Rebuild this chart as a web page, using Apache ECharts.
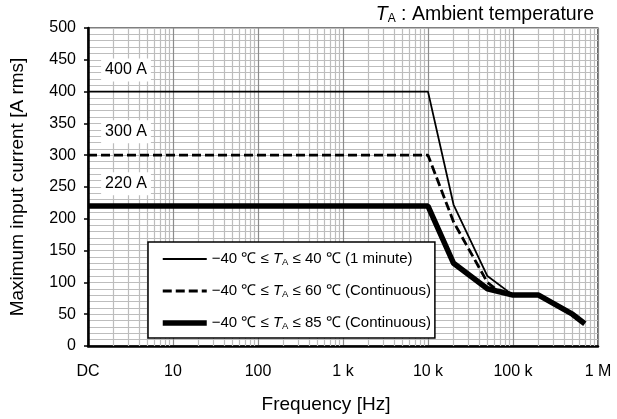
<!DOCTYPE html>
<html>
<head>
<meta charset="utf-8">
<script src="https://cdn.jsdelivr.net/npm/echarts@6/dist/echarts.min.js"></script>
<style>
html,body{margin:0;padding:0;background:#fff;}
#c{width:617px;height:419px;}
</style>
</head>
<body>
<div id="c"></div>
<script>
// ---- data ----
var seriesNames = [
  '−40 ℃ ≤ TA ≤ 40 ℃ (1 minute)',
  '−40 ℃ ≤ TA ≤ 60 ℃ (Continuous)',
  '−40 ℃ ≤ TA ≤ 85 ℃ (Continuous)'
];
var legendRich = [
  '−40 ℃ ≤ {i|T}{s|A} ≤ 40 ℃ (1 minute)',
  '−40 ℃ ≤ {i|T}{s|A} ≤ 60 ℃ (Continuous)',
  '−40 ℃ ≤ {i|T}{s|A} ≤ 85 ℃ (Continuous)'
];
var freqThin = [1, 10000, 20000, 50000, 100000];
var currThin = [400, 400, 222, 110, 80];
var freqDash = [1, 10000, 20000, 50000, 62000, 100000];
var currDash = [300, 300, 195, 100, 90, 80];
var freqThick = [1, 10000, 20000, 50000, 100000, 200000, 500000, 700000];
var currThick = [220, 220, 130, 90, 80, 80, 50, 35];
var xTickValues = [1, 10, 100, 1000, 10000, 100000, 1000000];
var xTickLabels = ['DC', '10', '100', '1 k', '10 k', '100 k', '1 M'];
var annotLabels = ['400 A', '300 A', '220 A'];
var annotFreq = [2.8, 2.8, 2.8];
var annotCurr = [434, 337, 255];

function pairs(xs, ys) { return xs.map(function (x, i) { return [x, ys[i]]; }); }

var minorLines = [];
for (var d = 1; d < 1000000; d *= 10) {
  for (var m = 2; m <= 9; m++) minorLines.push({ xAxis: d * m });
}

var lineWidths = [1.8, 2.8, 5.5];
var lineTypes = ['solid', [9, 4], 'solid'];

var FONT = 'Liberation Sans';
var chart = echarts.init(document.getElementById('c'), null, { renderer: 'canvas' });
chart.setOption({
  animation: false,
  backgroundColor: '#fff',
  textStyle: { fontFamily: FONT, color: '#000' },
  title: {
    text: '{i|T}{s|A} : Ambient temperature',
    right: 18, top: 0,
    textStyle: {
      fontFamily: FONT, fontSize: 19.5, fontWeight: 'normal', color: '#000',
      rich: {
        i: { fontFamily: FONT, fontSize: 19.5, fontStyle: 'italic', color: '#000' },
        s: { fontFamily: FONT, fontSize: 12, color: '#000', padding: [7, 0, 0, 0] }
      }
    }
  },
  grid: {
    left: 88, right: 19, top: 28, bottom: 73,
    show: true, borderColor: '#000', borderWidth: 1.2
  },
  legend: {
    orient: 'vertical',
    left: 148, top: 242,
    backgroundColor: '#fff',
    borderColor: '#000', borderWidth: 1.5, borderRadius: 0,
    padding: [8, 4, 6, 12],
    itemWidth: 44, itemHeight: 14, itemGap: 14,
    itemStyle: { opacity: 0 },
    data: seriesNames.map(function (n, i) {
      return { name: n, lineStyle: { width: lineWidths[i], type: lineTypes[i], color: '#000' } };
    }),
    formatter: function (n) { return legendRich[seriesNames.indexOf(n)]; },
    textStyle: {
      fontFamily: FONT, fontSize: 15, color: '#000', lineHeight: 18,
      rich: {
        i: { fontFamily: FONT, fontSize: 15, fontStyle: 'italic', color: '#000', lineHeight: 18 },
        s: { fontFamily: FONT, fontSize: 9.5, color: '#000', padding: [6, 0, 0, 0], lineHeight: 18 }
      }
    }
  },
  xAxis: {
    type: 'log', logBase: 10, min: 1, max: 1000000,
    name: 'Frequency [Hz]', nameLocation: 'middle', nameGap: 49,
    nameTextStyle: { fontFamily: FONT, fontSize: 19, color: '#000', padding: [0, 34, 0, 0] },
    axisLine: { show: true, lineStyle: { color: '#000', width: 2.5 } },
    axisTick: { show: false },
    axisLabel: {
      fontFamily: FONT, fontSize: 16, color: '#000', margin: 18,
      formatter: function (v) {
        var i = xTickValues.indexOf(Math.round(v));
        return i >= 0 ? xTickLabels[i] : '';
      }
    },
    splitLine: { show: true, lineStyle: { color: '#8c8c8c', width: 1.2 } }
  },
  yAxis: {
    type: 'value', min: 0, max: 500, interval: 50,
    name: 'Maximum input current [A rms]', nameLocation: 'middle', nameGap: 61,
    nameTextStyle: { fontFamily: FONT, fontSize: 19, color: '#000' },
    axisLine: { show: true, lineStyle: { color: '#000', width: 2.5 } },
    axisTick: { show: true, length: 4, lineStyle: { color: '#000', width: 1.5 } },
    axisLabel: { fontFamily: FONT, fontSize: 16, color: '#000', margin: 12 },
    splitLine: { show: true, lineStyle: { color: '#bdbdbd', width: 1.2 } },
    minorTick: { show: false, splitNumber: 5 },
    minorSplitLine: { show: true, lineStyle: { color: '#bdbdbd', width: 1.2 } }
  },
  series: [
    {
      name: '_grid', type: 'line', data: [], silent: true,
      markLine: {
        silent: true, symbol: 'none', z: 1, animation: false,
        label: { show: false },
        lineStyle: { color: '#bdbdbd', width: 1.2, type: 'solid' },
        emphasis: { disabled: true },
        data: minorLines
      }
    },
    {
      name: seriesNames[0], type: 'line', data: pairs(freqThin, currThin),
      symbol: 'none', z: 4,
      lineStyle: { color: '#000', width: lineWidths[0], type: lineTypes[0] },
      itemStyle: { color: '#000' }
    },
    {
      name: seriesNames[1], type: 'line', data: pairs(freqDash, currDash),
      symbol: 'none', z: 4,
      lineStyle: { color: '#000', width: lineWidths[1], type: lineTypes[1] },
      itemStyle: { color: '#000' }
    },
    {
      name: seriesNames[2], type: 'line', data: pairs(freqThick, currThick),
      symbol: 'none', z: 4,
      lineStyle: { color: '#000', width: lineWidths[2], type: lineTypes[2] },
      itemStyle: { color: '#000' },
      markPoint: {
        silent: true, symbol: 'rect', symbolSize: 1,
        itemStyle: { color: 'rgba(0,0,0,0)' },
        label: {
          show: true, position: 'inside', fontFamily: FONT, fontSize: 16, color: '#000',
          backgroundColor: '#fff', padding: [4, 4, 3, 4]
        },
        data: annotLabels.map(function (t, i) {
          return { coord: [annotFreq[i], annotCurr[i]], value: t, label: { formatter: t } };
        })
      }
    }
  ]
});
</script>
</body>
</html>
